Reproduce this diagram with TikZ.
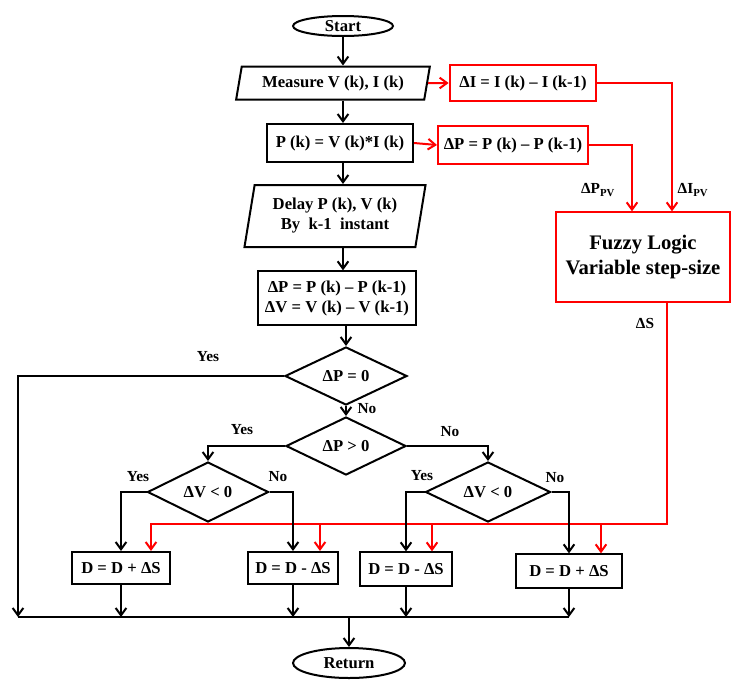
\documentclass[tikz,border=0pt]{standalone}
\usepackage{fontspec}
\setmainfont{Liberation Serif}
\usetikzlibrary{shapes.geometric,arrows.meta}

\begin{document}
\begin{tikzpicture}[x=0.75pt,y=-0.75pt,line width=1.5pt,
    every node/.style={font=\fontsize{12.5}{15}\selectfont\bfseries},
    proc/.style={rectangle,draw,inner sep=1pt},
    redproc/.style={proc,draw=red},
    io/.style={trapezium,draw,trapezium stretches=true,inner sep=1pt,align=center},
    decision/.style={diamond,draw,inner sep=0pt},
    term/.style={ellipse,draw,inner sep=0pt},
    flow/.style={-{Straight Barb[length=5.5pt,width=8pt]}},
    redflow/.style={flow,red},
    lbl/.style={font=\fontsize{11.5}{13}\selectfont\bfseries}]

  \useasboundingbox (0,0) rectangle (732,679);

  \node[term,minimum width=75pt,minimum height=15pt] (start) at (343,26) {Start};
  \node[io,trapezium left angle=76,trapezium right angle=104,
        minimum width=145.5pt,minimum height=24.75pt] (measure) at (333,83) {Measure V (k), I (k)};
  \node[redproc,minimum width=110pt,minimum height=27pt] (dI) at (523,83) {ΔI = I (k) – I (k-1)};
  \node[proc,minimum width=109.5pt,minimum height=28.5pt] (pk) at (340,143) {P (k) = V (k)*I (k)};
  \node[redproc,minimum width=112.5pt,minimum height=28.5pt] (dP) at (513,145) {ΔP = P (k) – P (k-1)};
  \node[io,trapezium left angle=78,trapezium right angle=102,
        minimum width=136pt,minimum height=46.5pt] (delay) at (335,216) {Delay P (k), V (k)\\By\ \ k-1\ \ instant};
  \node[proc,align=center,minimum width=118pt,minimum height=40pt] (diff) at (337,298)
        {ΔP = P (k) – P (k-1)\\ΔV = V (k) – V (k-1)};
  \node[redproc,align=center,font=\fontsize{15.5}{19}\selectfont\bfseries,
        minimum width=130pt,minimum height=67pt] (fuzzy) at (643,257) {Fuzzy Logic\\Variable step-size};

  \node[decision,minimum width=91.5pt,minimum height=34.5pt] (dzero) at (346,376) {ΔP = 0};
  \node[decision,minimum width=90pt,minimum height=35.25pt] (dpos) at (346,446) {ΔP > 0};
  \node[decision,minimum width=90.75pt,minimum height=35.25pt] (dvl) at (208,492) {ΔV < 0};
  \node[decision,minimum width=93.75pt,minimum height=36pt] (dvr) at (488,492) {ΔV < 0};

  \node[proc,minimum width=73.5pt,minimum height=24pt] (b1) at (121,568) {D = D + ΔS};
  \node[proc,minimum width=68pt,minimum height=24pt] (b2) at (293,568) {D = D - ΔS};
  \node[proc,minimum width=69pt,minimum height=25pt] (b3) at (406,569) {D = D - ΔS};
  \node[proc,minimum width=79.5pt,minimum height=25pt] (b4) at (569,571) {D = D + ΔS};
  \node[term,minimum width=84pt,minimum height=22.5pt] (ret) at (349,663) {Return};

  % labels
  \node[lbl] (yes0) at (208,357) {Yes};
  \node[lbl] (no0) at (367,409) {No};
  \node[lbl] (yes1) at (242,430) {Yes};
  \node[lbl] (no1) at (450,432) {No};
  \node[lbl] (yes2) at (138,477) {Yes};
  \node[lbl] (no2) at (278,477) {No};
  \node[lbl] (yes3) at (422,476) {Yes};
  \node[lbl] (no3) at (555,478) {No};
  \node[lbl] (lp) at (598,190) {ΔP\textsubscript{PV}};
  \node[lbl] (li) at (693,190) {ΔI\textsubscript{PV}};
  \node[lbl] (ls) at (645,323) {ΔS};

  \coordinate (iin) at (672,83);
  \coordinate (pin) at (632,145);
  \coordinate (sbus) at (667,524);
  \coordinate (r1) at (151,524);
  \coordinate (r2) at (320,524);
  \coordinate (r3) at (432,524);
  \coordinate (r4) at (601,524);
  \coordinate (lft) at (18,617);
  \coordinate (bot) at (349,617);

  % fuzzy step-size path
  \draw[redflow] (measure.east) -- (dI.west);
  \draw[redflow] (pk.east) -- (dP.west);
  \draw[redflow] (dI.east) -- (iin) -- (iin |- fuzzy.north);
  \draw[redflow] (dP.east) -- (pin) -- (pin |- fuzzy.north);
  \draw[redflow] (sbus |- fuzzy.south) -- (sbus) -- (r1) -- (r1 |- b1.north);
  \foreach \r/\b in {r2/b2,r3/b3,r4/b4}
    \draw[redflow] (\r) -- (\r |- \b.north);

  % main flow
  \draw[flow] (start) -- (start |- measure.north);
  \draw[flow] (start |- measure.south) -- (start |- pk.north);
  \draw[flow] (start |- pk.south) -- (start |- delay.north);
  \draw[flow] (start |- delay.south) -- (start |- diff.north);
  \draw[flow] (dzero.north |- diff.south) -- (dzero.north);
  \draw[flow] (dzero.south) -- (dpos.north);
  \draw[flow] (dzero.west) -| (lft);
  \draw[flow] (dpos.west) -| (dvl.north);
  \draw[flow] (dpos.east) -| (dvr.north);
  \draw[flow] (dvl.west) -| (b1.north);
  \draw[flow] (dvl.east) -| (b2.north);
  \draw[flow] (dvr.west) -| (b3.north);
  \draw[flow] (dvr.east) -| (b4.north);
  \foreach \b in {b1,b2,b3,b4}
    \draw[flow] (\b.south) -- (\b.south |- bot);
  \draw (lft) -- (b4.south |- bot);
  \draw[flow] (bot) -- (ret.north);
\end{tikzpicture}
\end{document}
